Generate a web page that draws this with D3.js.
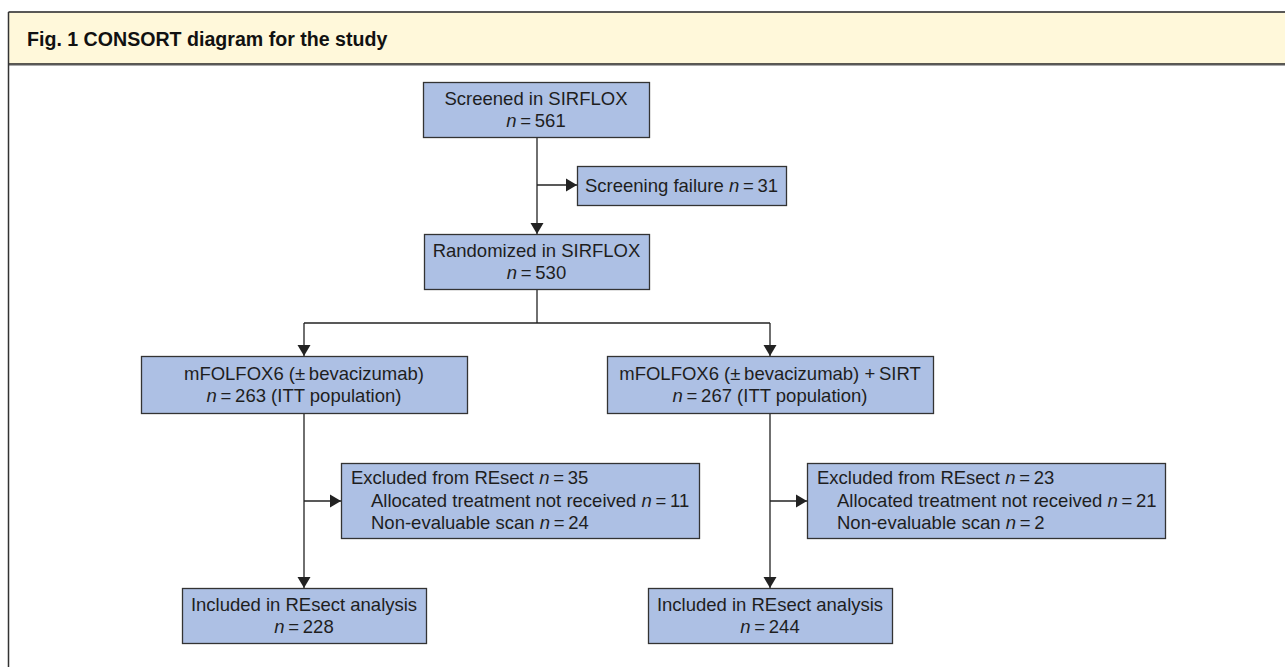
<!DOCTYPE html>
<html>
<head>
<meta charset="utf-8">
<script src="https://cdn.jsdelivr.net/npm/d3@7"></script>
<style>
  body { margin: 0; background: #fff; }
  svg { display: block; font-family: "Liberation Sans", Arial, Helvetica, sans-serif; }
</style>
</head>
<body>
<div id="consort"></div>
<script>
// Flow counts
const title = 'Fig. 1 CONSORT diagram for the study'
const stages = ['Screened in SIRFLOX', 'Randomized in SIRFLOX']
const stageN = [561, 530]
const screeningFailureN = 31
const arms = ['mFOLFOX6 (\u00b1\u2009bevacizumab)', 'mFOLFOX6 (\u00b1\u2009bevacizumab) +\u2009SIRT']
const armN = [263, 267]
const excludedN = [35, 23]
const notReceivedN = [11, 21]
const nonEvaluableN = [24, 2]
const includedN = [228, 244]

const width = 1285, height = 667
const fontSize = 18.5, lineH = 22.5
const boxFill = '#adc0e4', boxStroke = '#333', lineColor = '#222', textColor = '#1e1e1e'

// arms spread out from the centre column
const armX = d3.scalePoint().domain(arms).range([304, 770])
const midX = (armX(arms[0]) + armX(arms[1])) / 2

// row tops
const row = { screen: 82, fail: 166, rand: 234, split: 323, arm: 356, excl: 463, incl: 588 }

const svg = d3.select('#consort')
  .append('svg')
  .attr('width', width)
  .attr('height', height)

// Frame + header
svg.append('rect')
  .attr('x', 8.5).attr('y', 12.5)
  .attr('width', width).attr('height', 51.5)
  .attr('fill', '#fff8da')

svg.append('line')
  .attr('x1', 8.5).attr('x2', width).attr('y1', 12).attr('y2', 12)
  .attr('stroke', '#222').attr('stroke-width', 1.6)
svg.append('line')
  .attr('x1', 8.5).attr('x2', width).attr('y1', 64).attr('y2', 64)
  .attr('stroke', '#222').attr('stroke-width', 1.6)
svg.append('line')
  .attr('x1', 8.5).attr('x2', width).attr('y1', 65.5).attr('y2', 65.5)
  .attr('stroke', '#aaa').attr('stroke-width', 1)
svg.append('line')
  .attr('x1', 8.5).attr('x2', 8.5).attr('y1', 12).attr('y2', height)
  .attr('stroke', '#333').attr('stroke-width', 1.5)

svg.append('text')
  .attr('x', 27).attr('y', 46)
  .attr('font-size', 19.6).attr('font-weight', 'bold')
  .attr('fill', '#111')
  .text(title)

// helpers
const nPart = v => [{ t: 'n', i: true }, { t: '\u2009=\u2009' + v }]

function box(x, y, w, h, lines, align) {
  const g = svg.append('g').attr('class', 'box')
  g.append('rect')
    .attr('x', x + 0.5).attr('y', y + 0.5)
    .attr('width', w).attr('height', h)
    .attr('fill', boxFill)
    .attr('stroke', boxStroke)
    .attr('stroke-width', 1.3)
  const cy = y + h / 2
  const y0 = cy - (lines.length - 1) * lineH / 2
  lines.forEach((ln, k) => {
    const t = g.append('text')
      .attr('y', y0 + k * lineH + fontSize * 0.35)
      .attr('font-size', fontSize)
      .attr('fill', textColor)
    if (align === 'left') {
      t.attr('x', x + 10 + (ln.indent ? 20 : 0)).attr('text-anchor', 'start')
    } else {
      t.attr('x', x + w / 2).attr('text-anchor', 'middle')
    }
    ln.parts.forEach(p => {
      t.append('tspan')
        .attr('font-style', p.i ? 'italic' : null)
        .text(p.t)
    })
  })
}

function path(points, arrow) {
  svg.append('path')
    .attr('d', d3.line()(points))
    .attr('fill', 'none')
    .attr('stroke', lineColor)
    .attr('stroke-width', 1.3)
  if (!arrow) return
  const [x1, y1] = points[points.length - 2]
  const [x2, y2] = points[points.length - 1]
  const a = Math.atan2(y2 - y1, x2 - x1)
  const L = 11, W = 6.5
  const bx = x2 - L * Math.cos(a), by = y2 - L * Math.sin(a)
  const tri = [
    [x2, y2],
    [bx + W * Math.sin(a), by - W * Math.cos(a)],
    [bx - W * Math.sin(a), by + W * Math.cos(a)]
  ]
  svg.append('path')
    .attr('d', d3.line()(tri) + 'Z')
    .attr('fill', lineColor)
}

// Connectors
path([[midX, row.screen + 55], [midX, row.rand]], true)
path([[midX, 185], [577, 185]], true)
path([[midX, row.rand + 55], [midX, row.split]], false)
path([[armX(arms[0]), row.split], [armX(arms[1]), row.split]], false)
arms.forEach(a => {
  const x = armX(a)
  path([[x, row.split], [x, row.arm]], true)
  path([[x, row.arm + 57], [x, row.incl]], true)
  path([[x, 501], [x + 37, 501]], true)
})

// Boxes
box(midX - 114, row.screen, 226, 55, [
  { parts: [{ t: stages[0] }] },
  { parts: nPart(stageN[0]) }
])
box(577, row.fail, 209, 39, [
  { parts: [{ t: 'Screening failure ' }].concat(nPart(screeningFailureN)) }
])
box(midX - 113, row.rand, 225, 55, [
  { parts: [{ t: stages[1] }] },
  { parts: nPart(stageN[1]) }
])

arms.forEach((a, i) => {
  const x = armX(a)
  box(x - 163, row.arm, 326, 57, [
    { parts: [{ t: a }] },
    { parts: nPart(armN[i]).concat([{ t: ' (ITT population)' }]) }
  ])
  box(x + 37, row.excl, 358, 75, [
    { parts: [{ t: 'Excluded from REsect ' }].concat(nPart(excludedN[i])) },
    { indent: true, parts: [{ t: 'Allocated treatment not received ' }].concat(nPart(notReceivedN[i])) },
    { indent: true, parts: [{ t: 'Non-evaluable scan ' }].concat(nPart(nonEvaluableN[i])) }
  ], 'left')
  box(x - 122, row.incl, 244, 55, [
    { parts: [{ t: 'Included in REsect analysis' }] },
    { parts: nPart(includedN[i]) }
  ])
})
</script>
</body>
</html>
